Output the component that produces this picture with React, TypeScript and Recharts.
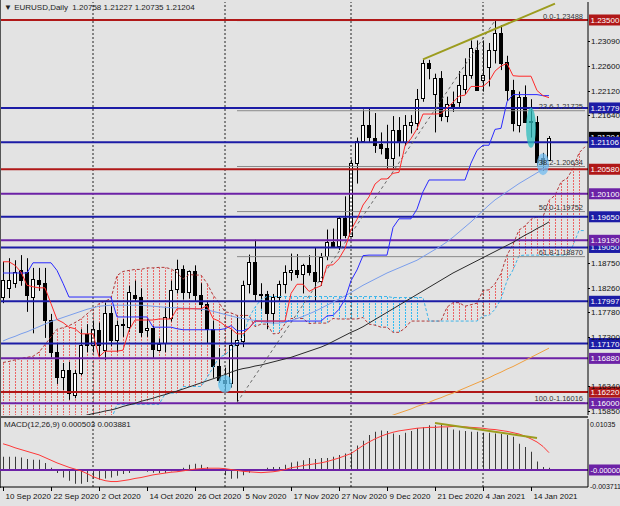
import React from 'react'
import {
  ComposedChart, Bar, Line, Area, XAxis, YAxis, ReferenceLine, ReferenceDot,
} from 'recharts'

// EURUSD daily, 10 Sep 2020 .. 19 Jan 2021 (92 bars), 6 empty slots for the shifted cloud
const opens = [
  1.1808, 1.1826, 1.1836, 1.1861, 1.1857, 1.1808, 1.1841, 1.1835, 1.1763, 1.1700,
  1.1651, 1.1665, 1.1616, 1.1659, 1.1735, 1.1714, 1.1743, 1.1704, 1.1777, 1.1724,
  1.1753, 1.1749, 1.1812, 1.1808, 1.1743, 1.1747, 1.1706, 1.1717, 1.1768, 1.1822,
  1.1862, 1.1817, 1.1858, 1.1811, 1.1794, 1.1746, 1.1673, 1.1646, 1.1640, 1.1714,
  1.1723, 1.1832, 1.1876, 1.1814, 1.1813, 1.1776, 1.1808, 1.1833, 1.1856, 1.1860,
  1.1852, 1.1870, 1.1857, 1.1840, 1.1887, 1.1915, 1.1908, 1.1962, 1.1928, 1.2070,
  1.2113, 1.2144, 1.2120, 1.2107, 1.2100, 1.2080, 1.2135, 1.2112, 1.2145, 1.2150,
  1.2196, 1.2265, 1.2205, 1.2236, 1.2162, 1.2185, 1.2188, 1.2214, 1.2242, 1.2291,
  1.2233, 1.2258, 1.2291, 1.2325, 1.2268, 1.2213, 1.2145, 1.2199, 1.2152, 1.2150,
  1.2080, 1.2076,
]
const highs = [
  1.1877, 1.1884, 1.1880, 1.1890, 1.1884, 1.1865, 1.1865, 1.1865, 1.1775, 1.1718,
  1.1679, 1.1681, 1.1665, 1.1745, 1.1755, 1.1762, 1.1758, 1.1797, 1.1790, 1.1762,
  1.1765, 1.1830, 1.1840, 1.1825, 1.1765, 1.1751, 1.1727, 1.1789, 1.1840, 1.1881,
  1.1870, 1.1860, 1.1870, 1.1835, 1.1798, 1.1762, 1.1708, 1.1670, 1.1745, 1.1770,
  1.1840, 1.1891, 1.1920, 1.1835, 1.1820, 1.1814, 1.1840, 1.1870, 1.1893, 1.1892,
  1.1873, 1.1890, 1.1905, 1.1894, 1.1940, 1.1942, 1.1965, 1.2005, 1.2077, 1.2120,
  1.2175, 1.2177, 1.2168, 1.2130, 1.2145, 1.2162, 1.2160, 1.2164, 1.2164, 1.2215,
  1.2273, 1.2272, 1.2245, 1.2250, 1.2200, 1.2210, 1.2250, 1.2275, 1.2310, 1.2310,
  1.2310, 1.2305, 1.2349, 1.2340, 1.2280, 1.2233, 1.2210, 1.2222, 1.2195, 1.2162,
  1.2090, 1.2123,
]
const lows = [
  1.1796, 1.1806, 1.1826, 1.1830, 1.1779, 1.1737, 1.1820, 1.1728, 1.1690, 1.1638,
  1.1626, 1.1607, 1.1610, 1.1655, 1.1700, 1.1700, 1.1690, 1.1685, 1.1712, 1.1700,
  1.1730, 1.1740, 1.1800, 1.1730, 1.1730, 1.1689, 1.1702, 1.1700, 1.1760, 1.1815,
  1.1803, 1.1805, 1.1800, 1.1780, 1.1718, 1.1650, 1.1640, 1.1622, 1.1631, 1.1602,
  1.1710, 1.1815, 1.1800, 1.1785, 1.1745, 1.1755, 1.1800, 1.1815, 1.1840, 1.1845,
  1.1815, 1.1850, 1.1800, 1.1830, 1.1880, 1.1905, 1.1900, 1.1923, 1.1926, 1.2030,
  1.2110, 1.2110, 1.2090, 1.2087, 1.2058, 1.2060, 1.2083, 1.2104, 1.2128, 1.2135,
  1.2190, 1.2234, 1.2130, 1.2152, 1.2150, 1.2170, 1.2180, 1.2205, 1.2235, 1.2212,
  1.2210, 1.2220, 1.2265, 1.2252, 1.2192, 1.2132, 1.2130, 1.2150, 1.2120, 1.2065,
  1.2055, 1.2074,
]
const closes = [
  1.1841, 1.1841, 1.1857, 1.1841, 1.1812, 1.1843, 1.1833, 1.1763, 1.1700, 1.1651,
  1.1665, 1.1620, 1.1659, 1.1714, 1.1714, 1.1745, 1.1714, 1.1777, 1.1724, 1.1753,
  1.1755, 1.1818, 1.1806, 1.1739, 1.1747, 1.1706, 1.1717, 1.1768, 1.1822, 1.1862,
  1.1817, 1.1858, 1.1811, 1.1794, 1.1746, 1.1673, 1.1646, 1.1640, 1.1714, 1.1723,
  1.1832, 1.1876, 1.1814, 1.1813, 1.1776, 1.1808, 1.1833, 1.1856, 1.1860, 1.1852,
  1.1870, 1.1857, 1.1840, 1.1887, 1.1915, 1.1908, 1.1962, 1.1928, 1.2070, 1.2113,
  1.2144, 1.2120, 1.2107, 1.2100, 1.2080, 1.2135, 1.2112, 1.2145, 1.2150, 1.2196,
  1.2265, 1.2255, 1.2237, 1.2162, 1.2185, 1.2180, 1.2222, 1.2242, 1.2295, 1.2213,
  1.2242, 1.2291, 1.2325, 1.2266, 1.2213, 1.2148, 1.2199, 1.2150, 1.2150, 1.2072,
  1.2070, 1.2120,
]

// ichimoku
const tenkan = [
  1.1877, 1.1877, 1.1870, 1.1857, 1.1831, 1.1828, 1.1826, 1.1826, 1.1795, 1.1764,
  1.1758, 1.1749, 1.1746, 1.1736, 1.1736, 1.1736, 1.1691, 1.1702, 1.1702, 1.1702,
  1.1704, 1.1743, 1.1763, 1.1763, 1.1763, 1.1763, 1.1765, 1.1765, 1.1765, 1.1785,
  1.1785, 1.1785, 1.1785, 1.1785, 1.1791, 1.1766, 1.1761, 1.1752, 1.1746, 1.1736,
  1.1736, 1.1747, 1.1761, 1.1761, 1.1761, 1.1761, 1.1761, 1.1761, 1.1815, 1.1833,
  1.1833, 1.1819, 1.1825, 1.1830, 1.1870, 1.1871, 1.1883, 1.1903, 1.1939, 1.1960,
  1.1988, 1.2004, 1.2029, 1.2039, 1.2039, 1.2050, 1.2052, 1.2104, 1.2118, 1.2137,
  1.2166, 1.2166, 1.2166, 1.2167, 1.2178, 1.2189, 1.2201, 1.2203, 1.2220, 1.2220,
  1.2220, 1.2230, 1.2250, 1.2260, 1.2265, 1.2241, 1.2240, 1.2240, 1.2240, 1.2212,
  1.2202, 1.2198,
]
const kijun = [
  1.1855, 1.1855, 1.1855, 1.1855, 1.1855, 1.1875, 1.1875, 1.1875, 1.1875, 1.1860,
  1.1835, 1.1808, 1.1808, 1.1808, 1.1808, 1.1808, 1.1808, 1.1808, 1.1808, 1.1769,
  1.1769, 1.1769, 1.1769, 1.1769, 1.1769, 1.1749, 1.1749, 1.1749, 1.1749, 1.1746,
  1.1744, 1.1744, 1.1744, 1.1744, 1.1744, 1.1744, 1.1744, 1.1746, 1.1752, 1.1742,
  1.1742, 1.1747, 1.1761, 1.1761, 1.1761, 1.1761, 1.1761, 1.1761, 1.1761, 1.1761,
  1.1761, 1.1761, 1.1761, 1.1761, 1.1771, 1.1772, 1.1784, 1.1804, 1.1840, 1.1861,
  1.1889, 1.1890, 1.1890, 1.1890, 1.1890, 1.1944, 1.1961, 1.1961, 1.1961, 1.1980,
  1.2014, 1.2037, 1.2037, 1.2037, 1.2037, 1.2037, 1.2037, 1.2037, 1.2070, 1.2095,
  1.2105, 1.2105, 1.2136, 1.2138, 1.2190, 1.2204, 1.2204, 1.2204, 1.2204, 1.2204,
  1.2202, 1.2202,
]
const spanA = [
  1.1680, 1.1682, 1.1685, 1.1688, 1.1690, 1.1692, 1.1700, 1.1715, 1.1730, 1.1745,
  1.1748, 1.1752, 1.1758, 1.1765, 1.1775, 1.1785, 1.1795, 1.1800, 1.1805, 1.1850,
  1.1858, 1.1860, 1.1862, 1.1862, 1.1865, 1.1865, 1.1866, 1.1866, 1.1863, 1.1856,
  1.1843, 1.1852, 1.1851, 1.1851, 1.1835, 1.1812, 1.1797, 1.1779, 1.1777, 1.1772,
  1.1772, 1.1772, 1.1750, 1.1755, 1.1755, 1.1736, 1.1737, 1.1756, 1.1766, 1.1766,
  1.1766, 1.1756, 1.1757, 1.1757, 1.1757, 1.1766, 1.1765, 1.1765, 1.1765, 1.1765,
  1.1768, 1.1755, 1.1753, 1.1749, 1.1749, 1.1739, 1.1739, 1.1747, 1.1761, 1.1761,
  1.1761, 1.1761, 1.1761, 1.1761, 1.1788, 1.1797, 1.1797, 1.1790, 1.1793, 1.1796,
  1.1821, 1.1822, 1.1834, 1.1854, 1.1890, 1.1911, 1.1939, 1.1947, 1.1960, 1.1965,
  1.1965, 1.1997, 1.2007, 1.2033, 1.2040, 1.2059, 1.2090, 1.2102,
]
const spanB = [
  1.1408, 1.1425, 1.1450, 1.1490, 1.1508, 1.1528, 1.1542, 1.1542, 1.1542, 1.1567,
  1.1567, 1.1567, 1.1567, 1.1567, 1.1567, 1.1567, 1.1567, 1.1567, 1.1567, 1.1598,
  1.1598, 1.1598, 1.1598, 1.1598, 1.1598, 1.1598, 1.1598, 1.1618, 1.1620, 1.1620,
  1.1633, 1.1633, 1.1633, 1.1633, 1.1650, 1.1670, 1.1690, 1.1695, 1.1705, 1.1718,
  1.1730, 1.1768, 1.1788, 1.1803, 1.1809, 1.1809, 1.1809, 1.1809, 1.1809, 1.1809,
  1.1809, 1.1809, 1.1809, 1.1809, 1.1809, 1.1809, 1.1809, 1.1809, 1.1809, 1.1809,
  1.1809, 1.1809, 1.1809, 1.1809, 1.1809, 1.1807, 1.1807, 1.1807, 1.1807, 1.1807,
  1.1807, 1.1761, 1.1761, 1.1761, 1.1761, 1.1761, 1.1761, 1.1761, 1.1761, 1.1761,
  1.1771, 1.1772, 1.1784, 1.1804, 1.1840, 1.1861, 1.1889, 1.1890, 1.1890, 1.1890,
  1.1890, 1.1890, 1.1890, 1.1890, 1.1890, 1.1909, 1.1938, 1.1938,
]

// moving averages
const maFast = [
  1.1722, 1.1727, 1.1731, 1.1736, 1.1740, 1.1745, 1.1750, 1.1755, 1.1760, 1.1764,
  1.1768, 1.1772, 1.1776, 1.1780, 1.1784, 1.1787, 1.1790, 1.1791, 1.1792, 1.1792,
  1.1792, 1.1792, 1.1792, 1.1792, 1.1791, 1.1790, 1.1789, 1.1788, 1.1787, 1.1787,
  1.1786, 1.1786, 1.1785, 1.1784, 1.1783, 1.1780, 1.1777, 1.1774, 1.1771, 1.1768,
  1.1766, 1.1764, 1.1762, 1.1760, 1.1758, 1.1757, 1.1757, 1.1759, 1.1762, 1.1766,
  1.1770, 1.1775, 1.1780, 1.1786, 1.1792, 1.1798, 1.1804, 1.1810, 1.1817, 1.1824,
  1.1831, 1.1837, 1.1843, 1.1849, 1.1855, 1.1860, 1.1865, 1.1870, 1.1875, 1.1880,
  1.1887, 1.1894, 1.1901, 1.1908, 1.1916, 1.1925, 1.1935, 1.1945, 1.1955, 1.1966,
  1.1977, 1.1988, 1.1998, 1.2006, 1.2014, 1.2022, 1.2030, 1.2037, 1.2044, 1.2051,
  1.2058, 1.2066,
]
const maMid = [
  1.1535, 1.1538, 1.1541, 1.1544, 1.1547, 1.1550, 1.1553, 1.1556, 1.1559, 1.1562,
  1.1565, 1.1568, 1.1571, 1.1574, 1.1577, 1.1580, 1.1582, 1.1585, 1.1587, 1.1590,
  1.1594, 1.1597, 1.1600, 1.1604, 1.1607, 1.1610, 1.1614, 1.1617, 1.1621, 1.1624,
  1.1628, 1.1632, 1.1636, 1.1640, 1.1644, 1.1648, 1.1652, 1.1656, 1.1661, 1.1665,
  1.1668, 1.1670, 1.1673, 1.1675, 1.1678, 1.1681, 1.1684, 1.1687, 1.1690, 1.1694,
  1.1698, 1.1702, 1.1706, 1.1710, 1.1715, 1.1721, 1.1727, 1.1733, 1.1739, 1.1744,
  1.1750, 1.1757, 1.1764, 1.1771, 1.1778, 1.1785, 1.1792, 1.1799, 1.1806, 1.1813,
  1.1820, 1.1827, 1.1834, 1.1841, 1.1848, 1.1855, 1.1861, 1.1867, 1.1873, 1.1879,
  1.1885, 1.1891, 1.1897, 1.1903, 1.1909, 1.1915, 1.1922, 1.1929, 1.1935, 1.1942,
  1.1948, 1.1955,
]
const maSlow = [
  null, null, null, null, null, null, null, null, null, null,
  null, null, null, null, null, null, null, null, null, null,
  null, null, null, null, null, null, null, null, null, null,
  null, null, null, null, null, null, null, null, null, null,
  null, null, null, null, null, null, null, null, null, null,
  null, null, null, null, null, null, null, null, null, null,
  1.1556, 1.1560, 1.1564, 1.1569, 1.1573, 1.1577, 1.1581, 1.1585, 1.1589, 1.1594,
  1.1598, 1.1602, 1.1607, 1.1611, 1.1616, 1.1620, 1.1625, 1.1630, 1.1635, 1.1640,
  1.1645, 1.1650, 1.1656, 1.1661, 1.1667, 1.1672, 1.1678, 1.1684, 1.1690, 1.1696,
  1.1702, 1.1708,
]

// MACD(12,26,9)
const macdMain = [
  0.0030, 0.0030, 0.0030, 0.0028, 0.0025, 0.0023, 0.0023, 0.0016, 0.0005, -0.0007,
  -0.0017, -0.0024, -0.0031, -0.0031, -0.0027, -0.0020, -0.0022, -0.0019, -0.0017, -0.0013,
  -0.0009, -0.0007, -0.0002, 0.0000, -0.0004, -0.0006, -0.0007, -0.0007, -0.0003, -0.0003,
  0.0005, 0.0012, 0.0014, 0.0012, 0.0007, 0.0001, 0.0000, -0.0012, -0.0020, -0.0019,
  -0.0012, -0.0006, -0.0002, 0.0001, 0.0005, 0.0007, 0.0007, 0.0012, 0.0017, 0.0019,
  0.0022, 0.0027, 0.0025, 0.0027, 0.0027, 0.0030, 0.0034, 0.0037, 0.0041, 0.0055,
  0.0066, 0.0079, 0.0086, 0.0089, 0.0088, 0.0082, 0.0079, 0.0084, 0.0088, 0.0094,
  0.0096, 0.0101, 0.0101, 0.0104, 0.0096, 0.0091, 0.0089, 0.0088, 0.0086, 0.0086,
  0.0084, 0.0084, 0.0082, 0.0081, 0.0079, 0.0075, 0.0059, 0.0052, 0.0041, 0.0019,
  0.0007, 0.0005,
]
const macdSignal = [
  0.0059, 0.0055, 0.0050, 0.0046, 0.0042, 0.0038, 0.0034, 0.0028, 0.0022, 0.0016,
  0.0011, 0.0006, 0.0002, -0.0002, -0.0008, -0.0015, -0.0020, -0.0024, -0.0026, -0.0026,
  -0.0024, -0.0022, -0.0019, -0.0017, -0.0014, -0.0011, -0.0009, -0.0007, -0.0005, -0.0004,
  -0.0002, 0.0000, 0.0002, 0.0003, 0.0004, 0.0004, 0.0004, 0.0003, 0.0001, -0.0001,
  -0.0003, -0.0004, -0.0005, -0.0006, -0.0005, -0.0004, -0.0002, 0.0001, 0.0005, 0.0007,
  0.0010, 0.0012, 0.0014, 0.0016, 0.0019, 0.0023, 0.0027, 0.0032, 0.0037, 0.0046,
  0.0055, 0.0063, 0.0070, 0.0076, 0.0081, 0.0085, 0.0088, 0.0090, 0.0092, 0.0094,
  0.0095, 0.0096, 0.0096, 0.0097, 0.0097, 0.0098, 0.0098, 0.0097, 0.0096, 0.0095,
  0.0094, 0.0092, 0.0091, 0.0089, 0.0087, 0.0084, 0.0081, 0.0076, 0.0070, 0.0063,
  0.0053, 0.0039,
]

// levels drawn by hand on the chart
const redLevels = [1.235, 1.2058, 1.1622]
const blueLevels = [1.21779, 1.21106, 1.1965, 1.1905, 1.17997, 1.1717]
const purpleLevels = [1.201, 1.1919, 1.1688, 1.16]
const lastPrice = 1.21204
const fibLevels = [1.23488, 1.21725, 1.20634, 1.19752, 1.1887, 1.16016]
const fibNames = ['0.0', '23.6', '38.2', '50.0', '61.8', '100.0']
// axis grid prices that are not hidden behind a level tag
const priceTicks = [
  1.1585, 1.1634, 1.173, 1.1778, 1.1826, 1.1875,
  1.2164, 1.2212, 1.226, 1.2309,
]
const monthStarts = [15, 37, 58, 80]
const dateTicks = [0, 8, 16, 24, 32, 40, 48, 56, 64, 72, 80, 88]
const dateLabels = [
  '10 Sep 2020', '22 Sep 2020', '2 Oct 2020', '14 Oct 2020', '26 Oct 2020', '5 Nov 2020',
  '17 Nov 2020', '27 Nov 2020', '9 Dec 2020', '21 Dec 2020', '4 Jan 2021', '14 Jan 2021',
]
const macdTicks = [0.01035, -0.003711]
const macdTickLabels = ['0.01035', '-0.003711']

const SLOTS = 98
const rows = Array.from({ length: SLOTS }, (_, i) => {
  const has = i < opens.length
  const a = spanA[i]
  const b = spanB[i]
  return {
    i,
    o: has ? opens[i] : null,
    h: has ? highs[i] : null,
    l: has ? lows[i] : null,
    c: has ? closes[i] : null,
    range: has ? [lows[i], highs[i]] : null,
    tenkan: has ? tenkan[i] : null,
    kijun: has ? kijun[i] : null,
    maFast: has ? maFast[i] : null,
    maMid: has ? maMid[i] : null,
    maSlow: has ? maSlow[i] : null,
    spanA: a,
    spanB: b,
    kumoUp: a >= b ? [b, a] : null,
    kumoDn: a < b ? [a, b] : null,
    macd: has ? macdMain[i] : null,
    signal: has ? macdSignal[i] : null,
  }
})

const FONT = 'Liberation Sans, Arial, sans-serif'
const RED = '#b01818'
const BLUE = '#1c1ca6'
const PURPLE = '#6c22a6'

const Candle = (props: any) => {
  const { x, y, width, height, payload } = props
  if (!payload || payload.o == null || y == null) return null
  const top = Math.min(y, y + height)
  const span = Math.abs(height)
  const k = payload.h > payload.l ? span / (payload.h - payload.l) : 0
  const yo = top + (payload.h - payload.o) * k
  const yc = top + (payload.h - payload.c) * k
  const cx = Math.floor(x + width / 2) + 0.5
  const bt = Math.round(Math.min(yo, yc)) + 0.5
  const bh = Math.max(1, Math.round(Math.abs(yc - yo)))
  const up = payload.c >= payload.o
  return (
    <g>
      <line x1={cx} x2={cx} y1={top} y2={top + span} stroke="#000" strokeWidth={1} />
      <rect x={cx - 2} y={bt} width={3} height={bh} fill={up ? '#fff' : '#000'} stroke="#000" strokeWidth={1} />
    </g>
  )
}

const Tag = (props: any) => {
  const { viewBox, text, bg, size } = props
  if (!viewBox) return null
  const x = viewBox.x + viewBox.width + 1
  const y = viewBox.y
  return (
    <g>
      <rect x={x} y={y - 5.5} width={31} height={11} fill={bg} />
      <text x={x + 1.5} y={y + 3} fontSize={size || 8} fill="#fff" fontFamily={FONT}>{text}</text>
    </g>
  )
}

const PriceTick = (props: any) => {
  const { x, y, payload } = props
  return (
    <g>
      <line x1={x - 3} x2={x - 1} y1={Math.round(y) + 0.5} y2={Math.round(y) + 0.5} stroke="#000" />
      <text x={x} y={y + 3} fontSize={8} fill="#111" fontFamily={FONT}>{Number(payload.value).toFixed(5)}</text>
    </g>
  )
}

const MacdTick = (props: any) => {
  const { x, y, payload } = props
  const k = macdTicks.indexOf(payload.value)
  return (
    <text x={x - 1} y={y + 3} fontSize={7} fill="#111" fontFamily={FONT}>{macdTickLabels[k]}</text>
  )
}

const DateTick = (props: any) => {
  const { x, y, payload } = props
  const k = dateTicks.indexOf(payload.value)
  if (k < 0) return null
  const px = Math.floor(x) + 0.5
  return (
    <g>
      <line x1={px} x2={px} y1={y} y2={y + 4} stroke="#000" />
      <text x={px + 2} y={y + 12} fontSize={8} fill="#111" fontFamily={FONT}>{dateLabels[k]}</text>
    </g>
  )
}

const blob = (rx: number, ry: number, fill: string) => (p: any) => (
  <ellipse cx={p.cx} cy={p.cy} rx={rx} ry={ry} fill={fill} fillOpacity={0.75} />
)

const fibText = (label: string) => (p: any) => (
  <text x={p.cx - 2} y={p.cy - 1.5} fontSize={7.5} textAnchor="end" fill="#333" fontFamily={FONT}>{label}</text>
)

export default function App() {
  return (
    <div style={{ position: 'absolute', left: 0, top: 0, width: 620, height: 506, background: '#e3e3e3', overflow: 'hidden', fontFamily: FONT }}>
      <div style={{ position: 'absolute', left: 0, top: 0 }}>
        <ComposedChart width={620} height={417} data={rows} margin={{ top: 2, right: 0, left: 0, bottom: 2 }}>
          <defs>
            <pattern id="kumoRedHatch" x="0" y="0" width="6" height="3" patternUnits="userSpaceOnUse">
              <rect x="3" y="0" width="1" height="2" fill="#ec6464" shapeRendering="crispEdges" />
            </pattern>
            <pattern id="kumoBlueHatch" x="0" y="0" width="6" height="3" patternUnits="userSpaceOnUse">
              <rect x="3" y="0" width="1" height="2" fill="#30bcf4" shapeRendering="crispEdges" />
            </pattern>
          </defs>
          <XAxis dataKey="i" hide />
          <YAxis
            orientation="right"
            width={32}
            domain={[1.15772, 1.23852]}
            allowDataOverflow
            ticks={priceTicks}
            interval={0}
            tick={<PriceTick />}
            tickLine={false}
            tickSize={0}
            tickMargin={3}
            axisLine={{ stroke: '#000' }}
          />
          <Area dataKey="kumoUp" stroke="none" fill="url(#kumoRedHatch)" fillOpacity={1} isAnimationActive={false} />
          <Area dataKey="kumoDn" stroke="none" fill="url(#kumoBlueHatch)" fillOpacity={1} isAnimationActive={false} />
          <Line dataKey="spanA" stroke="#b03838" strokeDasharray="3 2" strokeWidth={1} dot={false} isAnimationActive={false} />
          <Line dataKey="spanB" stroke="#40b4e8" strokeDasharray="3 2" strokeWidth={1} dot={false} isAnimationActive={false} />

          {monthStarts.map((m) => (
            <ReferenceLine key={'m' + m} x={m} stroke="#222" strokeDasharray="2 2" strokeWidth={1} />
          ))}
          {fibLevels.map((v, k) => (
            <ReferenceLine key={'f' + k} segment={[{ x: 39, y: v }, { x: 97, y: v }]} stroke="#8a8a8a" strokeWidth={1} />
          ))}
          {redLevels.map((v) => (
            <ReferenceLine key={'r' + v} y={v} stroke={RED} strokeWidth={2} label={<Tag text={v.toFixed(5)} bg={RED} />} />
          ))}
          <ReferenceLine y={lastPrice} stroke="none" label={<Tag text={lastPrice.toFixed(5)} bg="#000" />} />
          {blueLevels.map((v) => (
            <ReferenceLine key={'b' + v} y={v} stroke={BLUE} strokeWidth={2} label={<Tag text={v.toFixed(5)} bg={BLUE} />} />
          ))}
          {purpleLevels.map((v) => (
            <ReferenceLine key={'p' + v} y={v} stroke={PURPLE} strokeWidth={2} label={<Tag text={v.toFixed(5)} bg={PURPLE} />} />
          ))}

          <ReferenceLine segment={[{ x: 39, y: 1.16016 }, { x: 82, y: 1.23488 }]} stroke="#666" strokeDasharray="3 3" strokeWidth={1} />
          <ReferenceLine segment={[{ x: 70, y: 1.2273 }, { x: 92, y: 1.2382 }]} stroke="#9c9c1e" strokeWidth={2} />

          <ReferenceDot x={37} y={1.1638} r={8} shape={blob(7, 9, '#62c4f2')} />
          <ReferenceDot x={88} y={1.2139} r={8} shape={blob(5, 20, '#2cbcbc')} />
          <ReferenceDot x={90} y={1.2068} r={8} shape={blob(6, 11, '#72bcf0')} />

          <Line dataKey="maSlow" stroke="#f0a040" strokeWidth={1} dot={false} isAnimationActive={false} />
          <Line dataKey="maMid" stroke="#2a2a2a" strokeWidth={1} dot={false} isAnimationActive={false} />
          <Line dataKey="maFast" stroke="#7a9eec" strokeWidth={1} dot={false} isAnimationActive={false} />
          <Line dataKey="kijun" stroke="#2a2aff" strokeWidth={1} dot={false} isAnimationActive={false} />
          <Line dataKey="tenkan" stroke="#ff2a2a" strokeWidth={1} dot={false} isAnimationActive={false} />

          <Bar dataKey="range" barSize={3} shape={<Candle />} isAnimationActive={false} />

          {fibLevels.map((v, k) => (
            <ReferenceDot key={'ft' + k} x={97} y={v} r={1} shape={fibText(fibNames[k] + '-' + v.toFixed(5))} />
          ))}
        </ComposedChart>
      </div>

      <div style={{ position: 'absolute', left: 0, top: 416, width: 588, height: 2, background: '#555' }} />
      <div style={{ position: 'absolute', left: 0, top: 0, width: 1, height: 488, background: '#555' }} />

      <div style={{ position: 'absolute', left: 0, top: 417 }}>
        <ComposedChart width={620} height={89} data={rows} margin={{ top: 2, right: 0, left: 0, bottom: 1 }}>
          <XAxis
            dataKey="i"
            ticks={dateTicks}
            interval={0}
            height={18}
            tick={<DateTick />}
            tickLine={false}
            tickSize={0}
            tickMargin={0}
            axisLine={{ stroke: '#000' }}
          />
          <YAxis
            orientation="right"
            width={32}
            domain={[-0.00383, 0.01148]}
            allowDataOverflow
            ticks={macdTicks}
            interval={0}
            tick={<MacdTick />}
            tickLine={false}
            tickSize={0}
            tickMargin={3}
            axisLine={{ stroke: '#000' }}
          />
          {monthStarts.map((m) => (
            <ReferenceLine key={'mm' + m} x={m} stroke="#222" strokeDasharray="2 2" strokeWidth={1} />
          ))}
          <ReferenceLine y={0} stroke={PURPLE} strokeWidth={2} label={<Tag text="-0.00000" bg={PURPLE} size={7.5} />} />
          <Bar dataKey="macd" barSize={1} fill="#3a3a3a" isAnimationActive={false} />
          <Line dataKey="signal" stroke="#ff3838" strokeWidth={1} dot={false} isAnimationActive={false} />
          <ReferenceLine segment={[{ x: 72, y: 0.0106 }, { x: 89, y: 0.0072 }]} stroke="#9c9c1e" strokeWidth={2} />
        </ComposedChart>
      </div>

      <div style={{ position: 'absolute', left: 4, top: 3, fontSize: 8, color: '#222', whiteSpace: 'pre', lineHeight: '10px' }}>
        {'▼ EURUSD,Daily  1.20758 1.21227 1.20735 1.21204'}
      </div>
      <div style={{ position: 'absolute', left: 4, top: 420, fontSize: 8, color: '#222', whiteSpace: 'pre', lineHeight: '10px' }}>
        {'MACD(12,26,9) 0.000503 0.003881'}
      </div>
    </div>
  )
}
